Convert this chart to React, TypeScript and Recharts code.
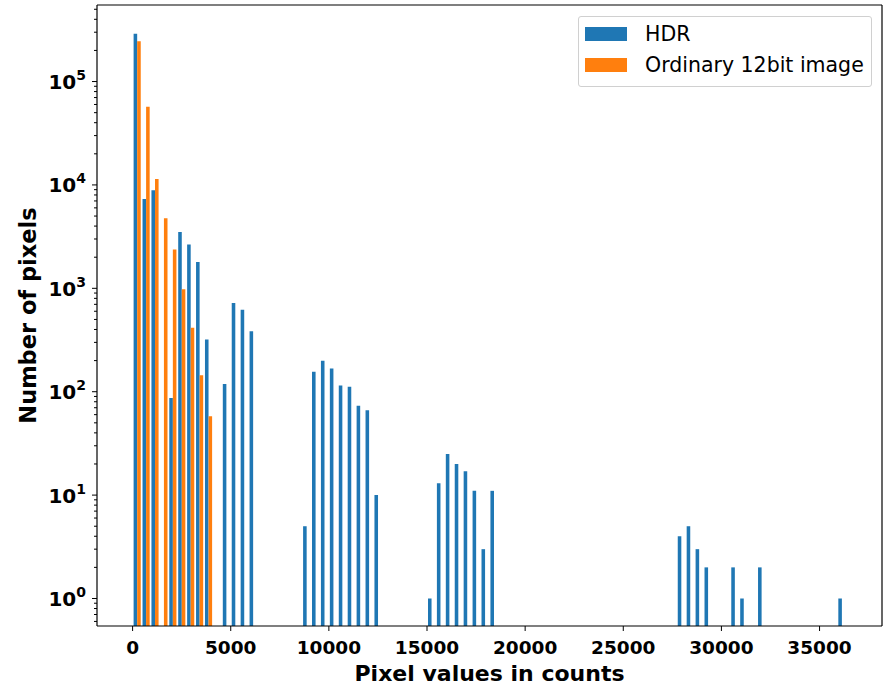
import { BarChart, Bar, XAxis, YAxis, Legend, ReferenceLine } from 'recharts'

// histogram: 80 equal bins over 0..36360 counts, only non-empty bins listed
const pixelMax = 36360
const binCount = 80

const hdrBins = [0, 1, 2, 4, 5, 6, 7, 8, 10, 11, 12, 13, 19, 20, 21, 22, 23, 24, 25, 26, 27,
  33, 34, 35, 36, 37, 38, 39, 40, 61, 62, 63, 64, 67, 68, 70, 79]
const hdrCounts = [290000, 7300, 8900, 87, 3500, 2650, 1800, 320, 119, 720, 620, 385, 5, 156, 199, 168, 115, 112, 73, 66, 10,
  1, 13, 25, 20, 17, 11, 3, 11, 4, 5, 3, 2, 2, 1, 2, 1]

const ordBins = [0, 1, 2, 3, 4, 5, 6, 7, 8]
const ordCounts = [246000, 57000, 11400, 4750, 2380, 980, 416, 144, 58]

const xTicks = [0, 5000, 10000, 15000, 20000, 25000, 30000, 35000]
const decades = [1, 10, 100, 1000, 10000, 100000]
const xMin = -1814
const xMax = 38182
const yMin = 0.542
const yMax = 550000

const HDR_COLOR = '#1f77b4'
const ORD_COLOR = '#ff7f0e'
const FONT = '"DejaVu Sans", sans-serif'

const binWidth = pixelMax / binCount
const allBins = Array.from(new Set([...hdrBins, ...ordBins])).sort((a, b) => a - b)
const data = allBins.map((b) => {
  const hi = hdrBins.indexOf(b)
  const oi = ordBins.indexOf(b)
  return {
    x: (b + 0.5) * binWidth,
    hdr: hi >= 0 ? hdrCounts[hi] : null,
    ord: oi >= 0 ? ordCounts[oi] : null,
  }
})

// major + minor log ticks inside the visible range
const yTicks: number[] = []
for (const d of [0.1, ...decades]) {
  for (let m = 1; m <= 9; m++) {
    const v = m * d
    if (v >= yMin && v <= yMax) yTicks.push(v)
  }
}

function LogTick({ x, y, payload }: any) {
  const v = payload.value
  const exp = Math.round(Math.log10(v))
  const major = Math.abs(v - Math.pow(10, exp)) < v * 1e-6
  return (
    <g>
      <line x1={x - (major ? 5 : 3)} x2={x} y1={y} y2={y} stroke="#000" strokeWidth={1} />
      {major && (
        <text x={x - 11} y={y + 7.5} textAnchor="end" fontFamily={FONT} fontWeight="bold" fontSize={20} fill="#000">
          10<tspan fontSize={14} dy={-9}>{exp}</tspan>
        </text>
      )}
    </g>
  )
}

function HistLegend() {
  const rows = [
    { label: 'HDR', color: HDR_COLOR, top: 10 },
    { label: 'Ordinary 12bit image', color: ORD_COLOR, top: 41 },
  ]
  return (
    <div style={{ position: 'relative', width: 294, height: 71, boxSizing: 'border-box', border: '1px solid #d0d0d0',
      borderRadius: 3, background: 'rgba(255,255,255,0.8)', fontFamily: FONT, fontSize: 20.5, color: '#000' }}>
      {rows.map((r) => (
        <div key={r.label}>
          <div style={{ position: 'absolute', left: 6, top: r.top, width: 42, height: 14, background: r.color }} />
          <div style={{ position: 'absolute', left: 66, top: r.top - 5, lineHeight: '24px', whiteSpace: 'nowrap' }}>{r.label}</div>
        </div>
      ))}
    </div>
  )
}

export default function App() {
  return (
    <div style={{ position: 'absolute', left: 0, top: 0, fontFamily: FONT }}>
      <BarChart width={884} height={686} data={data} margin={{ top: 5, right: 2, bottom: 0, left: 0 }}
        barGap={0} barCategoryGap="20%">
        <XAxis dataKey="x" type="number" domain={[xMin, xMax]} ticks={xTicks} allowDataOverflow
          height={60} tickSize={5} tickMargin={10} interval={0}
          axisLine={{ stroke: '#000', strokeWidth: 1.2 }} tickLine={{ stroke: '#000' }}
          tick={{ fill: '#000', fontSize: 18.5, fontWeight: 'bold', fontFamily: FONT }}
          label={{ value: 'Pixel values in counts', position: 'insideBottom', offset: 5,
            style: { fill: '#000', fontSize: 22, fontWeight: 'bold', fontFamily: FONT } }} />
        <YAxis scale="log" type="number" domain={[yMin, yMax]} allowDataOverflow ticks={yTicks} interval={0}
          width={97} tickSize={0} tickMargin={0} tickLine={false} tick={<LogTick />}
          axisLine={{ stroke: '#000', strokeWidth: 1.2 }}
          label={{ value: 'Number of pixels', angle: -90, position: 'insideLeft', offset: 28,
            style: { textAnchor: 'middle', fill: '#000', fontSize: 22.5, fontWeight: 'bold', fontFamily: FONT } }} />
        <ReferenceLine y={yMax} stroke="#000" strokeWidth={1.2} ifOverflow="visible" />
        <ReferenceLine x={xMax} stroke="#000" strokeWidth={1.2} ifOverflow="visible" />
        <Legend layout="vertical" align="center" verticalAlign="middle" content={<HistLegend />}
          wrapperStyle={{ left: 578, top: 16, width: 294, height: 71 }} />
        <Bar dataKey="hdr" name="HDR" fill={HDR_COLOR} barSize={3.57} isAnimationActive={false} />
        <Bar dataKey="ord" name="Ordinary 12bit image" fill={ORD_COLOR} barSize={3.57} isAnimationActive={false} />
      </BarChart>
    </div>
  )
}
